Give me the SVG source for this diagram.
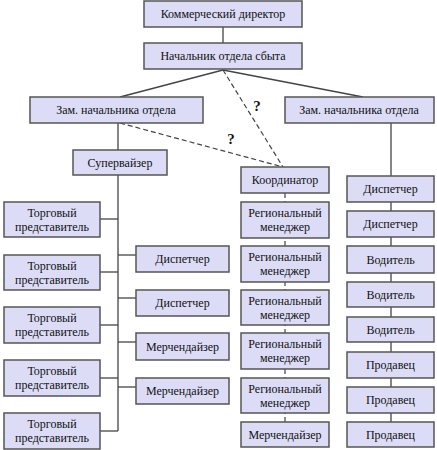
<svg xmlns="http://www.w3.org/2000/svg" width="437" height="450" viewBox="0 0 437 450" font-family="Liberation Serif, Times New Roman, serif">
<style>
.b{fill:#dcdcf6;stroke:#555;stroke-width:1.5}
.t{font-size:12px;fill:#111;text-anchor:middle;dominant-baseline:central}
.c{stroke:#444;stroke-width:1.3;fill:none}
.d{stroke:#444;stroke-width:1.2;fill:none;stroke-dasharray:5,3}
.q{font-size:15px;font-weight:bold;fill:#111;text-anchor:middle}
</style>
<rect width="437" height="450" fill="#fff"/>
<g id="connectors">
<line class="c" x1="223" y1="27" x2="223" y2="43"/>
<line class="c" x1="223" y1="70" x2="120" y2="97"/>
<line class="c" x1="223" y1="70" x2="363" y2="97"/>
<line class="d" x1="223" y1="70" x2="283" y2="167"/>
<line class="d" x1="120" y1="123" x2="283" y2="167"/>
<line class="c" x1="118" y1="123" x2="118" y2="150"/>
<line class="c" x1="118" y1="175" x2="118" y2="431"/>
<line class="c" x1="100" y1="219" x2="118" y2="219"/>
<line class="c" x1="100" y1="272" x2="118" y2="272"/>
<line class="c" x1="100" y1="325" x2="118" y2="325"/>
<line class="c" x1="100" y1="378" x2="118" y2="378"/>
<line class="c" x1="100" y1="431" x2="118" y2="431"/>
<line class="c" x1="118" y1="255" x2="136" y2="255"/>
<line class="c" x1="118" y1="298" x2="136" y2="298"/>
<line class="c" x1="118" y1="342" x2="136" y2="342"/>
<line class="c" x1="118" y1="387" x2="136" y2="387"/>
<line class="d" x1="285" y1="193" x2="285" y2="422" stroke-dasharray="3,3"/>
<line class="c" x1="391" y1="123" x2="391" y2="422"/>
<text class="q" x="257" y="111">?</text>
<text class="q" x="231" y="144">?</text>
</g>
<g id="n1"><rect class="b" x="144" y="1" width="158" height="26"/><text class="t" x="223" y="14">Коммерческий директор</text></g>
<g id="n2"><rect class="b" x="144" y="43" width="158" height="26"/><text class="t" x="223" y="56">Начальник отдела сбыта</text></g>
<g id="n3"><rect class="b" x="30" y="97" width="173" height="26"/><text class="t" x="116" y="110">Зам. начальника отдела</text></g>
<g id="n4"><rect class="b" x="285" y="97" width="149" height="26"/><text class="t" x="359" y="110">Зам. начальника отдела</text></g>
<g id="n5"><rect class="b" x="73" y="150" width="94" height="25"/><text class="t" x="120" y="162.5">Супервайзер</text></g>
<g id="tp1"><rect class="b" x="4" y="202" width="96" height="35"/><text class="t" x="52" y="212.5">Торговый</text><text class="t" x="52" y="226.5">представитель</text></g>
<g id="tp2"><rect class="b" x="4" y="255" width="96" height="35"/><text class="t" x="52" y="265.5">Торговый</text><text class="t" x="52" y="279.5">представитель</text></g>
<g id="tp3"><rect class="b" x="4" y="307" width="96" height="36"/><text class="t" x="52" y="318">Торговый</text><text class="t" x="52" y="332">представитель</text></g>
<g id="tp4"><rect class="b" x="4" y="360" width="96" height="36"/><text class="t" x="52" y="371">Торговый</text><text class="t" x="52" y="385">представитель</text></g>
<g id="tp5"><rect class="b" x="4" y="413" width="96" height="36"/><text class="t" x="52" y="424">Торговый</text><text class="t" x="52" y="438">представитель</text></g>
<g id="ld1"><rect class="b" x="136" y="246" width="93" height="26"/><text class="t" x="182.5" y="259">Диспетчер</text></g>
<g id="ld2"><rect class="b" x="136" y="290" width="93" height="26"/><text class="t" x="182.5" y="303">Диспетчер</text></g>
<g id="lm1"><rect class="b" x="136" y="333" width="93" height="27"/><text class="t" x="182.5" y="346.5">Мерчендайзер</text></g>
<g id="lm2"><rect class="b" x="136" y="378" width="93" height="26"/><text class="t" x="182.5" y="391">Мерчендайзер</text></g>
<g id="k"><rect class="b" x="241" y="167" width="88" height="26"/><text class="t" x="285" y="180">Координатор</text></g>
<g id="r1"><rect class="b" x="241" y="202" width="88" height="36"/><text class="t" x="285" y="213">Региональный</text><text class="t" x="285" y="227">менеджер</text></g>
<g id="r2"><rect class="b" x="241" y="246" width="88" height="36"/><text class="t" x="285" y="257">Региональный</text><text class="t" x="285" y="271">менеджер</text></g>
<g id="r3"><rect class="b" x="241" y="290" width="88" height="35"/><text class="t" x="285" y="300.5">Региональный</text><text class="t" x="285" y="314.5">менеджер</text></g>
<g id="r4"><rect class="b" x="241" y="333" width="88" height="36"/><text class="t" x="285" y="344">Региональный</text><text class="t" x="285" y="358">менеджер</text></g>
<g id="r5"><rect class="b" x="241" y="378" width="88" height="35"/><text class="t" x="285" y="388.5">Региональный</text><text class="t" x="285" y="402.5">менеджер</text></g>
<g id="rm"><rect class="b" x="241" y="422" width="88" height="25"/><text class="t" x="285" y="434.5">Мерчендайзер</text></g>
<g id="p1"><rect class="b" x="347" y="176" width="87" height="26"/><text class="t" x="390.5" y="189">Диспетчер</text></g>
<g id="p2"><rect class="b" x="347" y="211" width="87" height="26"/><text class="t" x="390.5" y="224">Диспетчер</text></g>
<g id="p3"><rect class="b" x="347" y="246" width="87" height="27"/><text class="t" x="390.5" y="259.5">Водитель</text></g>
<g id="p4"><rect class="b" x="347" y="282" width="87" height="25"/><text class="t" x="390.5" y="294.5">Водитель</text></g>
<g id="p5"><rect class="b" x="347" y="317" width="87" height="25"/><text class="t" x="390.5" y="329.5">Водитель</text></g>
<g id="p6"><rect class="b" x="347" y="352" width="87" height="26"/><text class="t" x="390.5" y="365">Продавец</text></g>
<g id="p7"><rect class="b" x="347" y="387" width="87" height="26"/><text class="t" x="390.5" y="400">Продавец</text></g>
<g id="p8"><rect class="b" x="347" y="422" width="87" height="25"/><text class="t" x="390.5" y="434.5">Продавец</text></g>
</svg>
